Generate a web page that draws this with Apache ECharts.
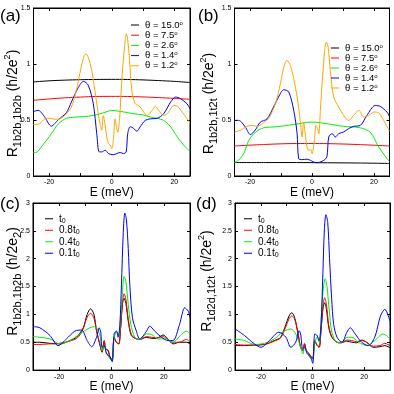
<!DOCTYPE html>
<html>
<head>
<meta charset="utf-8">
<script src="https://cdn.jsdelivr.net/npm/echarts@6/dist/echarts.min.js"></script>
<style>
  html, body { margin: 0; padding: 0; background: #fff; }
  #chart { width: 394px; height: 394px; }
</style>
</head>
<body>
<div id="chart"></div>
<script>
// legend names
const thetaNames = ['θ = 15.0°', 'θ = 7.5°', 'θ = 2.6°', 'θ = 1.4°', 'θ = 1.2°'];
const tNames = ['t0', '0.8t0', '0.4t0', '0.1t0'];
const xTickLabels = [-20, 0, 20];

// (a) R_1b2b,1b2b  [E (meV), R]
const aT150 = [[-25,0.84],[-20,0.85],[-15,0.856],[-10,0.86],[-5,0.862],[0,0.863],[5,0.862],[10,0.858],[15,0.852],[20,0.845],[25,0.835]];
const aT75 = [[-25,0.676],[-20,0.688],[-15,0.698],[-10,0.705],[-5,0.71],[0,0.711],[5,0.71],[10,0.706],[15,0.7],[20,0.693],[25,0.685]];
const aT26 = [[-25,0.21],[-24,0.212],[-22.5,0.26],[-20,0.35],[-17,0.467],[-14.5,0.515],[-12,0.525],[-9,0.53],[-6,0.54],[-3.75,0.555],[-1.5,0.575],[0,0.586],[2.7,0.577],[5,0.566],[7,0.556],[10,0.545],[12.3,0.527],[14.5,0.515],[16.6,0.497],[18.8,0.44],[20.9,0.35],[23,0.275],[25,0.22]];
const aT14 = [[-25,0.575],[-23.5,0.586],[-21.5,0.53],[-19.3,0.445],[-17,0.505],[-14.5,0.565],[-12.9,0.66],[-10.7,0.79],[-9,0.845],[-7.5,0.81],[-5.9,0.646],[-4.8,0.38],[-4,0.215],[-3.2,0.215],[-2.1,0.23],[-1,0.2],[0.5,0.19],[1.6,0.2],[2.7,0.21],[3.75,0.2],[4.6,0.215],[5.1,0.378],[5.9,0.44],[7,0.425],[8,0.4],[9.1,0.44],[10.7,0.497],[12.3,0.51],[14.5,0.515],[16.6,0.556],[18.8,0.66],[20.4,0.705],[22,0.69],[24,0.646],[25,0.6]];
const aT12 = [[-25,0.46],[-23,0.467],[-21.4,0.51],[-19.8,0.515],[-18.2,0.506],[-16.6,0.51],[-14.5,0.556],[-12.9,0.616],[-11.3,0.765],[-10.2,0.914],[-9.1,1.048],[-8.3,1.092],[-7.5,1.06],[-6.4,0.943],[-5.4,0.765],[-4.3,0.556],[-3.75,0.467],[-3.2,0.408],[-2.7,0.54],[-2.1,0.45],[-1.6,0.348],[-1.07,0.29],[-0.5,0.275],[0,0.244],[0.5,0.318],[1.07,0.51],[1.6,0.42],[1.9,0.39],[2.5,0.51],[2.9,0.705],[3.5,0.97],[4.3,1.21],[4.6,1.27],[5,1.24],[5.7,1.03],[6.4,0.765],[7.5,0.646],[9.1,0.616],[10.2,0.57],[11.3,0.54],[12.9,0.586],[13.9,0.622],[15,0.586],[16.6,0.54],[18.2,0.57],[19.8,0.63],[20.9,0.625],[22.5,0.57],[24.1,0.51],[25,0.47]];

// (b) R_1b2b,1t2t
const bT150 = [[-25,0.12],[-15,0.12],[-5,0.12],[5,0.118],[15,0.116],[25,0.112]];
const bT75 = [[-25,0.268],[-15,0.282],[-5,0.29],[0,0.29],[5,0.289],[15,0.281],[25,0.268]];
const bT26 = [[-25,0.12],[-23.7,0.14],[-22,0.2],[-20.4,0.318],[-18.3,0.39],[-15.6,0.43],[-11.3,0.44],[-5.9,0.46],[0,0.482],[4.8,0.467],[10.2,0.443],[15.6,0.43],[18.8,0.39],[21.5,0.26],[24.2,0.155],[25,0.13]];
const bT14 = [[-25,0.497],[-23.7,0.497],[-21.5,0.437],[-19.9,0.37],[-18.3,0.41],[-16.7,0.48],[-14.5,0.51],[-12.4,0.616],[-10.8,0.705],[-9.1,0.77],[-7.5,0.75],[-5.9,0.586],[-4.8,0.378],[-4.3,0.155],[-3.2,0.146],[-1.6,0.15],[-0.5,0.14],[0.5,0.125],[1.6,0.118],[2.7,0.125],[3.8,0.14],[4.8,0.17],[5.4,0.348],[6.5,0.378],[7.5,0.348],[8.6,0.378],[10.2,0.393],[11.8,0.423],[13.4,0.443],[15.6,0.452],[17.7,0.54],[20.4,0.63],[22,0.622],[24.2,0.57],[25,0.53]];
const bT12 = [[-25,0.393],[-23.1,0.408],[-21,0.443],[-19.4,0.452],[-17.7,0.443],[-16.1,0.467],[-14,0.512],[-11.8,0.646],[-10.2,0.824],[-9.1,0.973],[-8.1,1.033],[-7,0.988],[-5.9,0.869],[-4.8,0.705],[-3.8,0.497],[-3.2,0.348],[-2.7,0.482],[-2.2,0.378],[-1.6,0.259],[-1.1,0.229],[-0.5,0.24],[0,0.2],[0.75,0.318],[1.3,0.452],[1.8,0.423],[2.2,0.378],[2.7,0.586],[3.4,0.884],[4.1,1.122],[4.6,1.196],[5.2,1.15],[5.9,0.943],[7,0.705],[8.6,0.616],[10.2,0.54],[11.8,0.497],[13.4,0.54],[15.1,0.586],[16.7,0.527],[18.3,0.54],[19.9,0.571],[21.5,0.565],[23.1,0.497],[25,0.4]];

// (c) R_1b2b,1b2b vs hopping
const cT10 = [[-30,0.5],[-27.4,0.5],[-23.5,0.48],[-19.7,0.47],[-15.9,0.53],[-13.4,0.59],[-10.8,0.76],[-9.3,1.0],[-8,1.1],[-6.7,1.0],[-5.7,0.7],[-4.5,0.47],[-3.6,0.32],[-2.8,0.53],[-2.2,0.38],[-1.3,0.35],[-0.6,0.235],[0.25,0.18],[1,0.59],[1.9,0.5],[2.8,0.47],[3.4,0.7],[4.2,1.18],[4.8,1.29],[5.5,1.2],[6.4,0.88],[7.6,0.62],[9.5,0.56],[10.8,0.55],[13.4,0.59],[15.3,0.57],[17.2,0.57],[19.7,0.63],[21.6,0.56],[23.5,0.47],[26,0.5],[28.6,0.5],[30,0.47]];
const cT08 = [[-30,0.46],[-28,0.46],[-24,0.47],[-20,0.48],[-16,0.52],[-13,0.58],[-11,0.72],[-9.3,0.95],[-8,1.02],[-6.7,0.93],[-5.7,0.7],[-4.5,0.47],[-3.6,0.33],[-2.8,0.52],[-2.2,0.38],[-1.3,0.36],[-0.6,0.24],[0.25,0.19],[1,0.57],[1.9,0.5],[2.8,0.47],[3.4,0.72],[4.2,1.22],[4.8,1.37],[5.5,1.27],[6.4,0.92],[7.6,0.64],[9.5,0.56],[10.8,0.55],[13.4,0.6],[15.3,0.59],[17.2,0.58],[19.7,0.6],[21.6,0.55],[23.5,0.5],[26,0.5],[28.6,0.55],[30,0.5]];
const cT04 = [[-30,0.6],[-27.4,0.59],[-23.5,0.56],[-19.7,0.47],[-15.9,0.53],[-12.1,0.65],[-8.3,0.76],[-6.5,0.78],[-5.2,0.72],[-4.3,0.6],[-3.6,0.35],[-2.8,0.44],[-1.9,0.32],[-0.6,0.2],[0.25,0.18],[1,0.56],[1.9,0.7],[2.8,0.62],[3.4,0.88],[4.2,1.41],[4.8,1.68],[5.5,1.59],[6.4,1.18],[7.4,0.82],[8.9,0.59],[10.8,0.55],[13.4,0.65],[15.3,0.64],[17.8,0.56],[21,0.56],[23.5,0.5],[26.7,0.64],[28.6,0.7],[30,0.65]];
const cT01 = [[-30,0.78],[-27.4,0.76],[-23.5,0.62],[-20.4,0.44],[-17.2,0.56],[-14,0.7],[-11.5,0.72],[-9.3,0.53],[-7.6,0.42],[-5.7,0.59],[-4.7,0.76],[-4.1,0.68],[-3.6,0.41],[-2.8,0.44],[-1.9,0.29],[-0.6,0.24],[0.25,0.15],[1,0.65],[1.9,0.7],[2.5,0.59],[3.2,0.82],[3.8,1.53],[4.5,2.47],[5.1,2.82],[5.7,2.7],[6.4,2.18],[7,1.53],[8,0.94],[9.5,0.7],[10.8,0.56],[13.4,0.7],[14.6,0.79],[16.5,0.7],[19.1,0.59],[21.6,0.53],[23.5,0.53],[26,0.82],[28,1.12],[29.3,1.06],[30,0.94]];

// (d) R_1d2d,1t2t vs hopping
const dT10 = [[-30,0.44],[-26.3,0.44],[-22.5,0.45],[-18.6,0.46],[-14.8,0.53],[-12.3,0.59],[-10.3,0.82],[-9.1,0.97],[-8,1.03],[-6.9,0.94],[-5.6,0.65],[-4.6,0.41],[-3.7,0.35],[-3.1,0.47],[-2.4,0.35],[-1.4,0.29],[-0.5,0.24],[0.1,0.21],[0.9,0.53],[1.8,0.44],[2.6,0.41],[3.3,0.71],[4.1,1.12],[4.7,1.21],[5.4,1.09],[6.3,0.76],[7.5,0.59],[9.5,0.5],[11,0.49],[13.3,0.52],[15.2,0.5],[17.1,0.49],[19,0.54],[20.9,0.5],[23.5,0.41],[26.1,0.42],[28,0.44],[30,0.4]];
const dT08 = [[-30,0.46],[-26.3,0.45],[-22.5,0.45],[-18.6,0.46],[-14.8,0.52],[-12.3,0.58],[-10.3,0.78],[-9.1,0.92],[-8,0.97],[-6.9,0.92],[-5.6,0.66],[-4.6,0.42],[-3.7,0.34],[-3.1,0.48],[-2.4,0.36],[-1.4,0.3],[-0.5,0.24],[0.1,0.2],[0.9,0.52],[1.8,0.45],[2.6,0.42],[3.3,0.74],[4.1,1.18],[4.7,1.3],[5.4,1.18],[6.3,0.8],[7.5,0.6],[9.5,0.5],[11,0.49],[13.3,0.54],[15.2,0.53],[17.1,0.51],[19,0.53],[20.9,0.5],[23.5,0.43],[26.1,0.44],[28,0.48],[30,0.44]];
const dT04 = [[-30,0.56],[-26.3,0.53],[-22.5,0.46],[-18.6,0.48],[-14.8,0.56],[-11.6,0.68],[-8.4,0.74],[-6.5,0.65],[-4.6,0.41],[-3.7,0.29],[-3.1,0.41],[-2,0.32],[-0.8,0.21],[0.1,0.18],[0.9,0.5],[1.8,0.59],[2.6,0.5],[3.4,0.94],[4.2,1.47],[4.9,1.64],[5.6,1.5],[6.5,1.06],[7.5,0.68],[9.5,0.5],[11.4,0.5],[13.3,0.59],[15.2,0.59],[17.8,0.5],[20.9,0.44],[24.1,0.53],[27.3,0.65],[30,0.56]];
const dT01 = [[-30,0.74],[-26.3,0.62],[-22.5,0.47],[-19.9,0.41],[-16.7,0.53],[-13,0.68],[-10.3,0.59],[-8.4,0.41],[-6.5,0.5],[-5.2,0.71],[-4.6,0.65],[-3.8,0.38],[-3.1,0.41],[-2,0.29],[-0.8,0.24],[0.1,0.12],[0.9,0.65],[1.8,0.62],[2.6,0.53],[3.3,0.82],[4,1.71],[4.6,2.53],[5.2,2.79],[5.9,2.65],[6.6,2.0],[7.4,1.29],[8.2,0.82],[9.5,0.59],[11.4,0.5],[13.3,0.68],[14.6,0.76],[16.5,0.65],[19,0.5],[21.6,0.44],[24.1,0.59],[26.3,0.97],[28,1.09],[30,0.88]];

const chart = echarts.init(document.getElementById('chart'));
const FONT = 'Liberation Sans, Arial, sans-serif';
const BLACK = '#000000', RED = '#ff0000', GREEN = '#00ee00', BLUE = '#0000ff', ORANGE = '#ffa500';

const grids = [
  { left: 33.5, top: 8, width: 156.5, height: 168 },
  { left: 234.5, top: 8, width: 155, height: 168 },
  { left: 33, top: 203, width: 157, height: 170 },
  { left: 235, top: 203, width: 155, height: 170 }
];
const xRange = [[-25, 25], [-25, 25], [-30, 30], [-30, 30]];
const yMax = [1.5, 1.5, 3, 3];

const xAxis = [], yAxis = [];
grids.forEach((g, i) => {
  const common = {
    type: 'value', gridIndex: i, min: xRange[i][0], max: xRange[i][1],
    splitNumber: i < 2 ? 5 : 6,
    axisLine: { show: true, onZero: false, lineStyle: { color: BLACK, width: 1 } },
    axisTick: { show: true, inside: true, length: 3, lineStyle: { color: BLACK } },
    splitLine: { show: false }
  };
  xAxis.push(Object.assign({}, common, {
    position: 'bottom',
    axisLabel: { fontSize: 7, margin: 3, color: BLACK, fontFamily: FONT,
      formatter: v => (xTickLabels.indexOf(v) >= 0 ? String(v) : '') },
    name: 'E (meV)', nameLocation: 'middle', nameGap: 8,
    nameTextStyle: { fontSize: 12, color: BLACK, fontFamily: FONT, verticalAlign: 'top' }
  }));
  xAxis.push(Object.assign({}, common, { position: 'top', axisLabel: { show: false } }));
  const ycommon = {
    type: 'value', gridIndex: i, min: 0, max: yMax[i], interval: 0.5,
    axisLine: { show: true, onZero: false, lineStyle: { color: BLACK, width: 1 } },
    axisTick: { show: true, inside: true, length: 3, lineStyle: { color: BLACK } },
    splitLine: { show: false }
  };
  yAxis.push(Object.assign({}, ycommon, {
    position: 'left',
    axisLabel: { fontSize: 7, margin: 3, color: BLACK, fontFamily: FONT }
  }));
  yAxis.push(Object.assign({}, ycommon, { position: 'right', axisLabel: { show: false } }));
});

function line(name, data, color, g) {
  return {
    name, type: 'line', xAxisIndex: 2 * g, yAxisIndex: 2 * g, data,
    symbol: 'none', smooth: 0.3, clip: true,
    lineStyle: { color, width: 1 }, itemStyle: { color }
  };
}

const series = [
  line(thetaNames[0], aT150, BLACK, 0), line(thetaNames[1], aT75, RED, 0),
  line(thetaNames[2], aT26, GREEN, 0), line(thetaNames[3], aT14, BLUE, 0),
  line(thetaNames[4], aT12, ORANGE, 0),
  line(thetaNames[0], bT150, BLACK, 1), line(thetaNames[1], bT75, RED, 1),
  line(thetaNames[2], bT26, GREEN, 1), line(thetaNames[3], bT14, BLUE, 1),
  line(thetaNames[4], bT12, ORANGE, 1),
  line(tNames[0], cT10, BLACK, 2), line(tNames[1], cT08, RED, 2),
  line(tNames[2], cT04, GREEN, 2), line(tNames[3], cT01, BLUE, 2),
  line(tNames[0], dT10, BLACK, 3), line(tNames[1], dT08, RED, 3),
  line(tNames[2], dT04, GREEN, 3), line(tNames[3], dT01, BLUE, 3)
];

function legend(names, left, top, gap, fmt, fs, lh) {
  return {
    data: names, orient: 'vertical', left, top, icon: 'rect', itemWidth: 8, itemHeight: 1,
    itemGap: gap, selectedMode: false, padding: 0,
    formatter: fmt,
    textStyle: { fontSize: fs, color: BLACK, fontFamily: FONT, lineHeight: lh, padding: [0, 0, 0, 1],
      rich: { d: { fontSize: 6, verticalAlign: 'top', lineHeight: lh, color: BLACK, fontFamily: FONT },
              s: { fontSize: 7, verticalAlign: 'bottom', lineHeight: lh, color: BLACK, fontFamily: FONT } } }
  };
}
const thetaFmt = n => n.replace('°', '{d|o}');
const tFmt = n => n.replace(/t0$/, 't{s|0}');

function yName(text, x, y) {
  return {
    type: 'text', x, y, rotation: Math.PI / 2,
    style: {
      text, fontSize: 14, fontFamily: FONT, fill: BLACK, align: 'center', verticalAlign: 'middle',
      lineHeight: 20,
      rich: {
        s: { fontSize: 11, verticalAlign: 'bottom', lineHeight: 11, fontFamily: FONT, fill: BLACK },
        u: { fontSize: 9, verticalAlign: 'top', lineHeight: 9, fontFamily: FONT, fill: BLACK }
      }
    }
  };
}
function panelLabel(text, x, y) {
  return { type: 'text', x, y, style: { text, fontSize: 17, fontFamily: FONT, fill: BLACK, verticalAlign: 'middle' } };
}

chart.setOption({
  animation: false,
  backgroundColor: '#ffffff',
  grid: grids.map(g => Object.assign({ show: true, borderColor: BLACK, borderWidth: 1, backgroundColor: 'transparent' }, g)),
  xAxis, yAxis, series,
  legend: [
    legend(thetaNames, 131, 20, 0.2, thetaFmt, 9.5, 10),
    legend(thetaNames, 331, 43, 0, thetaFmt, 9.5, 9.7),
    legend(tNames, 45, 213, 0, tFmt, 10, 11.5),
    legend(tNames, 244, 213, 0, tFmt, 10, 11.5)
  ],
  graphic: [
    panelLabel('(a)', 0, 16.5), panelLabel('(b)', 198, 16.5),
    panelLabel('(c)', 0, 204), panelLabel('(d)', 196, 204),
    yName('R{s|1b2b,1b2b} (h/2e{u|2})', 13.5, 103.5),
    yName('R{s|1b2b,1t2t} (h/2e{u|2})', 209, 103.5),
    yName('R{s|1b2b,1b2b} (h/2e{s|2})', 13.5, 281.5),
    yName('R{s|1d2d,1t2t} (h/2e{u|2})', 207.5, 281)
  ]
});
</script>
</body>
</html>
